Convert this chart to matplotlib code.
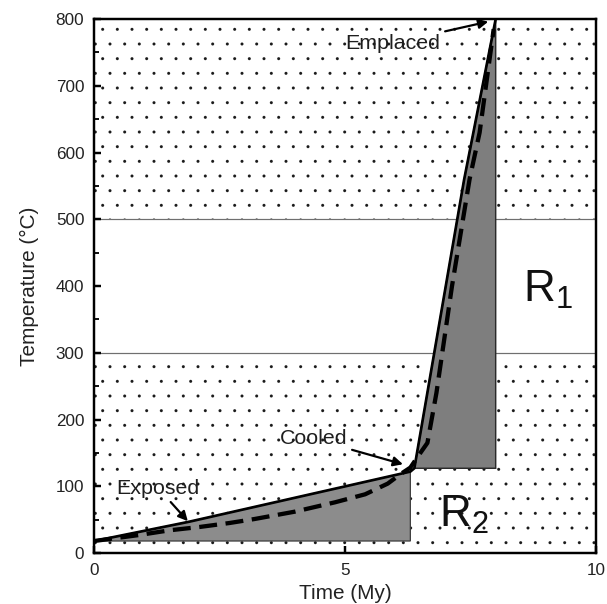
import matplotlib
matplotlib.use("Agg")
import matplotlib.pyplot as plt
from matplotlib.ticker import MultipleLocator

plt.rcParams['font.family'] = ['Liberation Sans', 'DejaVu Sans']
plt.rcParams['mathtext.default'] = 'regular'
plt.rcParams['hatch.linewidth'] = 0.05

DPI = 88

# stippled temperature bands (deg C) and the lines bounding the blank band
dot_bands = [(0, 300), (500, 800)]
band_lines = [300, 500]

# solid cooling path (My, deg C)
path_time = [0, 1.9, 6.3, 6.38, 7.37, 8.0]
path_temp = [18, 47, 122, 127, 559, 800]

# shaded wedges
r2_time = [0, 1.9, 6.3, 6.3]
r2_temp = [18, 47, 122, 18]
r1_time = [6.38, 7.37, 8.0, 8.0]
r1_temp = [127, 559, 800, 127]

# dashed curve
model_time = [0, 0.9, 1.5, 2.1, 2.7, 3.2, 4.0, 4.8, 5.4, 5.85, 6.1, 6.3,
              6.5, 6.64, 6.82, 7.13, 7.48, 7.68, 7.96]
model_temp = [18, 27, 34, 39, 45, 51, 62, 76, 88, 104, 118, 128,
              150, 165, 240, 400, 560, 630, 785]

x_ticks = [0, 5, 10]
y_ticks = [0, 100, 200, 300, 400, 500, 600, 700, 800]

fig = plt.figure(figsize=(607 / DPI, 604 / DPI), dpi=DPI)
ax = fig.add_axes([0.155, 0.0844, 0.827, 0.884])

for lo, hi in dot_bands:
    ax.fill_between([0, 10], lo, hi, facecolor='none', edgecolor='#1a1a1a',
                    hatch='.', linewidth=0, zorder=1)
for yv in band_lines:
    ax.axhline(yv, color='#6f6f6f', lw=1.0, zorder=1.5)

ax.fill(r2_time, r2_temp, facecolor='#8c8c8c', edgecolor='#3a3a3a', lw=1.0, zorder=2)
ax.fill(r1_time, r1_temp, facecolor='#7e7e7e', edgecolor='#2a2a2a', lw=1.2, zorder=2)
ax.plot(path_time, path_temp, color='black', lw=2.2, zorder=3)
ax.plot(model_time, model_temp, color='black', lw=3.5, dashes=(4.2, 2.0), zorder=4)

arrow = dict(arrowstyle='-|>', color='black', lw=1.8, mutation_scale=16)
ax.annotate('Emplaced', xy=(7.9, 797), xytext=(5.95, 764), fontsize=17.5,
            color='#1e1e1e', ha='center', va='center', arrowprops=arrow, zorder=5)
ax.annotate('Cooled', xy=(6.2, 132), xytext=(4.37, 171), fontsize=17.5,
            color='#1e1e1e', ha='center', va='center', arrowprops=arrow, zorder=5)
ax.annotate('Exposed', xy=(1.9, 45), xytext=(1.28, 97), fontsize=17.5,
            color='#1e1e1e', ha='center', va='center', arrowprops=arrow, zorder=5)

ax.text(8.54, 376, 'R$_1$', fontsize=36, color='#111111', ha='left', va='baseline', zorder=5)
ax.text(6.87, 40, 'R$_2$', fontsize=36, color='#111111', ha='left', va='baseline', zorder=5)

ax.set_xlim(0, 10)
ax.set_ylim(0, 800)
ax.set_xticks(x_ticks)
ax.set_yticks(y_ticks)
ax.yaxis.set_minor_locator(MultipleLocator(50))
ax.tick_params(which='major', direction='in', length=6, width=2, labelsize=14,
               labelcolor='#222222', pad=8)
ax.tick_params(which='minor', direction='in', length=4, width=1.5)
for sp in ax.spines.values():
    sp.set_linewidth(2)
ax.set_xlabel('Time (My)', fontsize=17, color='#222222', labelpad=5)
ax.set_ylabel('Temperature (°C)', fontsize=17, color='#222222', labelpad=14)

fig.savefig('out.png', dpi=DPI)
